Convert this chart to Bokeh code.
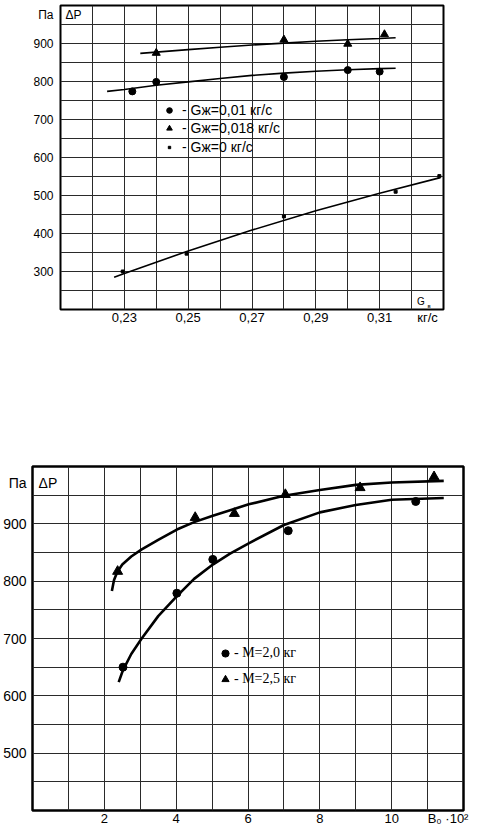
from bokeh.plotting import figure
from bokeh.layouts import column
from bokeh.models import Range1d, FixedTicker, Label, Legend, LegendItem
from bokeh.embed import file_html
from bokeh.resources import INLINE

# ---------------- top chart data ----------------
top_x_ticks = [0.23, 0.25, 0.27, 0.29, 0.31]
top_x_labels = ["0,23", "0,25", "0,27", "0,29", "0,31"]
top_y_ticks = [300, 400, 500, 600, 700, 800, 900]
top_y_labels = ["300", "400", "500", "600", "700", "800", "900"]
top_y_unit = "Па"
top_x_unit = "кг/с"

g001_x = [0.2325, 0.24, 0.28, 0.30, 0.31]
g001_y = [774, 799, 812, 830, 826]
g0018_x = [0.24, 0.28, 0.30, 0.3115]
g0018_y = [875, 910, 899, 924]
g0_x = [0.2295, 0.2495, 0.28, 0.315, 0.3287]
g0_y = [300, 347, 445, 510, 551]

fit001_x = [0.2246, 0.23, 0.24, 0.25, 0.26, 0.27, 0.28, 0.29, 0.30, 0.31, 0.315]
fit001_y = [774, 779, 790, 799, 808, 816, 822, 827, 831, 834, 835]
fit0018_x = [0.235, 0.25, 0.26, 0.27, 0.28, 0.29, 0.30, 0.31, 0.315]
fit0018_y = [874, 884, 890, 896, 901, 906, 910, 913, 915]
fit0_x = [0.2268, 0.23, 0.25, 0.27, 0.29, 0.31, 0.329]
fit0_y = [285, 295, 354, 409, 460, 506, 547]

top_labels = ["- Gж=0,01 кг/с", "- Gж=0,018 кг/с", "- Gж=0 кг/с"]

# ---------------- bottom chart data ----------------
bot_x_ticks = [2, 4, 6, 8, 10]
bot_x_labels = ["2", "4", "6", "8", "10"]
bot_y_ticks = [500, 600, 700, 800, 900]
bot_y_labels = ["500", "600", "700", "800", "900"]
bot_y_unit = "Па"
bot_x_unit = "B₀ ·10²"

m20_x = [2.52, 4.02, 5.02, 7.12, 10.67]
m20_y = [650, 779, 838, 888, 939]
m25_x = [2.37, 4.53, 5.62, 7.04, 9.12, 11.18]
m25_y = [817, 911, 918, 951, 963, 982]

fit20_x = [2.40, 2.52, 2.75, 3.03, 3.5, 4.02, 4.5, 5.02, 5.5, 6.02, 7.0, 8.0, 9.0, 10.0, 11.45]
fit20_y = [624, 645, 673, 699, 739, 774, 804, 829, 848, 866, 898, 920, 933, 942, 945]
fit25_x = [2.21, 2.27, 2.36, 2.5, 2.75, 3.03, 3.5, 4.02, 4.5, 5.02, 6.02, 7.0, 8.0, 9.0, 10.0, 11.45]
fit25_y = [783, 802, 816, 829, 843, 855, 872, 890, 903, 914, 934, 949, 959, 968, 972, 975]

bot_labels = ["- M=2,0 кг", "- M=2,5 кг"]

SANS = "Liberation Sans"
SERIF = "Liberation Serif"
GRID = "#2a2a2a"

# positions of unit captions on the axes (placement, not data)
TOP_Y_UNIT_AT = 976
TOP_X_UNIT_AT = 0.325
BOT_Y_UNIT_AT = 972
BOT_X_UNIT_AT = 11.57


def style_axes(p, xsize, ysize, xstand, ystand):
    for ax in (p.xaxis[0], p.yaxis[0]):
        ax.axis_line_color = None
        ax.major_tick_line_color = None
        ax.minor_tick_line_color = None
        ax.major_tick_out = 0
        ax.major_tick_in = 0
        ax.minor_tick_out = 0
        ax.minor_tick_in = 0
        ax.major_label_text_font = SANS
        ax.major_label_text_color = "black"
    p.xaxis[0].major_label_text_font_size = xsize
    p.yaxis[0].major_label_text_font_size = ysize
    p.xaxis[0].major_label_standoff = xstand
    p.yaxis[0].major_label_standoff = ystand
    p.outline_line_color = "black"
    p.outline_line_alpha = 1
    p.background_fill_color = "white"
    p.border_fill_color = "white"
    for g in (p.xgrid[0], p.ygrid[0]):
        g.grid_line_color = GRID
        g.grid_line_width = 1
        g.grid_line_alpha = 1


def make_legend(items, loc, gw, gh, spacing, standoff, font, size):
    return Legend(items=items, location=loc, padding=0, margin=0, spacing=spacing,
                  glyph_width=gw, glyph_height=gh, label_height=gh, label_standoff=standoff,
                  label_text_font=font, label_text_font_size=size, label_text_color="black",
                  background_fill_alpha=0, border_line_color=None)


# ================= top figure =================
p1 = figure(width=482, height=439, x_range=Range1d(0.21, 0.33), y_range=Range1d(200, 1000),
            output_backend="svg", toolbar_location=None, title=None, frame_align=False,
            min_border_left=60, min_border_right=39, min_border_top=5, min_border_bottom=130)
p1.xaxis.ticker = FixedTicker(ticks=top_x_ticks + [TOP_X_UNIT_AT])
ov = {t: s for t, s in zip(top_x_ticks, top_x_labels)}
ov[TOP_X_UNIT_AT] = top_x_unit
p1.xaxis.major_label_overrides = ov
p1.yaxis.ticker = FixedTicker(ticks=top_y_ticks + [TOP_Y_UNIT_AT])
ov = {t: s for t, s in zip(top_y_ticks, top_y_labels)}
ov[TOP_Y_UNIT_AT] = top_y_unit
p1.yaxis.major_label_overrides = ov
p1.xgrid.ticker = FixedTicker(ticks=[round(0.21 + 0.01 * i, 2) for i in range(1, 12)])
p1.ygrid.ticker = FixedTicker(ticks=[200 + 50 * i for i in range(1, 16)])
style_axes(p1, "13px", "12px", 0, 7)
p1.outline_line_width = 2

p1.line(fit0018_x, fit0018_y, line_color="black", line_width=1.6)
p1.line(fit001_x, fit001_y, line_color="black", line_width=1.6)
p1.line(fit0_x, fit0_y, line_color="black", line_width=1.6)
rc1 = p1.scatter(g001_x, g001_y, marker="circle", size=7, color="black")
rt1 = p1.scatter(g0018_x, g0018_y, marker="triangle", size=8, color="black")
rd1 = p1.scatter(g0_x, g0_y, marker="square", size=3, color="black")

p1.add_layout(make_legend([LegendItem(label=top_labels[0], renderers=[rc1]),
                           LegendItem(label=top_labels[1], renderers=[rt1])],
                          (102, 172), 14, 18, 0, 6, SANS, "14px"))
p1.add_layout(make_legend([LegendItem(label=top_labels[2], renderers=[rd1])],
                          (106, 153), 6, 18, 0, 10, SANS, "14px"))

p1.add_layout(Label(x=0.2116, y=976, text="ΔP", text_align="left", text_baseline="middle",
                    text_font=SANS, text_font_size="12px", text_color="black"))
p1.add_layout(Label(x=0.3229, y=220, text="G", text_align="center", text_baseline="middle",
                    text_font=SANS, text_font_size="10px", text_color="black"))
p1.add_layout(Label(x=0.3255, y=210, text="в", text_align="center", text_baseline="middle",
                    text_font=SANS, text_font_size="6px", text_color="black"))

# ================= bottom figure =================
p2 = figure(width=482, height=389, x_range=Range1d(0, 12), y_range=Range1d(400, 1000),
            output_backend="svg", toolbar_location=None, title=None, frame_align=False,
            min_border_left=31, min_border_right=19, min_border_top=27, min_border_bottom=15)
p2.xaxis.ticker = FixedTicker(ticks=bot_x_ticks + [BOT_X_UNIT_AT])
ov = {t: s for t, s in zip(bot_x_ticks, bot_x_labels)}
ov[BOT_X_UNIT_AT] = bot_x_unit
p2.xaxis.major_label_overrides = ov
p2.yaxis.ticker = FixedTicker(ticks=bot_y_ticks + [BOT_Y_UNIT_AT])
ov = {t: s for t, s in zip(bot_y_ticks, bot_y_labels)}
ov[BOT_Y_UNIT_AT] = bot_y_unit
p2.yaxis.major_label_overrides = ov
p2.xgrid.ticker = FixedTicker(ticks=list(range(1, 12)))
p2.ygrid.ticker = FixedTicker(ticks=[400 + 50 * i for i in range(1, 12)])
style_axes(p2, "13px", "14px", 0, 6)
p2.outline_line_width = 2.5

p2.line(fit25_x, fit25_y, line_color="black", line_width=2.6)
p2.line(fit20_x, fit20_y, line_color="black", line_width=2.6)
rc2 = p2.scatter(m20_x, m20_y, marker="circle", size=8, color="black")
rt2 = p2.scatter(m25_x, m25_y, marker="triangle", size=10, color="black")

p2.add_layout(make_legend([LegendItem(label=bot_labels[0], renderers=[rc2]),
                           LegendItem(label=bot_labels[1], renderers=[rt2])],
                          (184, 122), 18, 18, 8, 0, SERIF, "14px"))

p2.add_layout(Label(x=0.17, y=972, text="ΔP", text_align="left", text_baseline="middle",
                    text_font=SANS, text_font_size="14px", text_color="black"))

layout = column(p1, p2, spacing=0)
open("out.html", "w").write(file_html(layout, INLINE))
